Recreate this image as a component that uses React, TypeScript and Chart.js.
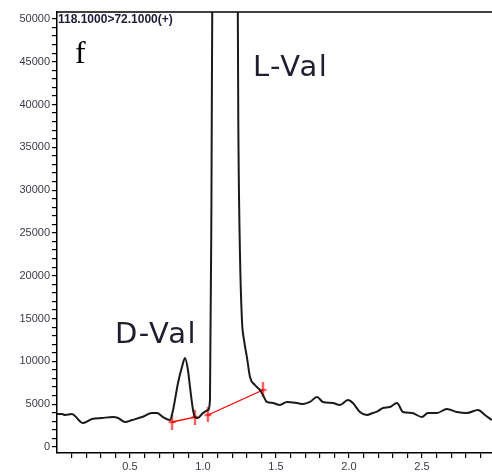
import React, { useEffect, useRef } from 'react';
import { Chart, registerables } from 'chart.js';

Chart.register(...registerables);

// Retention time (min) and intensity of the 118.1 > 72.1 transition
const retentionTime = [
  0.0, 0.034, 0.055, 0.103, 0.123, 0.178, 0.24, 0.308, 0.384, 0.418, 0.466, 0.514,
  0.582, 0.651, 0.685, 0.726, 0.774, 0.795, 0.829, 0.856, 0.877, 0.897, 0.911, 0.932,
  0.945, 0.966, 1.0, 1.034, 1.048, 1.058, 1.066, 1.15, 1.236, 1.242, 1.253, 1.267,
  1.281, 1.301, 1.322, 1.356, 1.39, 1.411, 1.438, 1.479, 1.527, 1.575, 1.644, 1.685,
  1.733, 1.781, 1.822, 1.89, 1.938, 1.993, 2.027, 2.075, 2.123, 2.164, 2.199, 2.233,
  2.281, 2.329, 2.37, 2.432, 2.5, 2.541, 2.603, 2.671, 2.74, 2.808, 2.884, 2.932, 2.979,
];
const intensity = [
  3850, 3850, 3740, 3850, 3620, 2800, 3270, 3390, 3500, 3390, 2920, 3150,
  3500, 3970, 3970, 3500, 3150, 4320, 7480, 9340, 10400, 8990, 7010, 4320,
  3500, 3390, 3970, 4320, 5490, 28800, 60000, 95000, 60000, 38000, 23000, 14800,
  12500, 10500, 8180, 7240, 6660, 6070, 5260, 5140, 4910, 5260, 5140, 5020,
  5260, 5840, 5260, 5140, 4910, 5490, 5140, 4090, 3740, 3970, 4200, 4560,
  4670, 5140, 4090, 3970, 3500, 3970, 3970, 4440, 4090, 3970, 4320, 3740, 3150,
];

// Integration baselines (red)
const dValBaseX = [0.788, 0.945];
const dValBaseY = [2920, 3500];
const lValBaseX = [1.034, 1.411];
const lValBaseY = [3740, 6660];

// Axis ticks
const yMajorTicks = [0, 5000, 10000, 15000, 20000, 25000, 30000, 35000, 40000, 45000, 50000];
const yMinorStep = 1000;
const xMajorTicks = [0.5, 1.0, 1.5, 2.0, 2.5];
const xMinorStep = 0.1;
const xMin = 0;
const xMax = 2.98;
const yMin = -700;
const yMax = 50800;

const headerText = '118.1000>72.1000(+)';
const panelLetter = 'f';
const peakLabels = [
  { text: 'D-Val', x: 0.397, y: 12150 },
  { text: 'L-Val', x: 1.342, y: 43330 },
];

function makeCross(): HTMLCanvasElement {
  const c = document.createElement('canvas');
  c.width = 9;
  c.height = 15;
  const ctx = c.getContext('2d')!;
  ctx.strokeStyle = '#ff0000';
  ctx.lineWidth = 1.5;
  ctx.beginPath();
  ctx.moveTo(4.5, 0);
  ctx.lineTo(4.5, 15);
  ctx.moveTo(1, 7.5);
  ctx.lineTo(8, 7.5);
  ctx.stroke();
  return c;
}

export default function App() {
  const ref = useRef<HTMLCanvasElement | null>(null);

  useEffect(() => {
    if (!ref.current) return;
    const cross = makeCross();
    const mainData = retentionTime.map((x, i) => ({ x, y: intensity[i] }));
    const dBase = dValBaseX.map((x, i) => ({ x, y: dValBaseY[i] }));
    const lBase = lValBaseX.map((x, i) => ({ x, y: lValBaseY[i] }));

    const yTicks: number[] = [];
    for (let v = 0; v <= 50000; v += yMinorStep) yTicks.push(v);
    const xTicks: number[] = [];
    for (let k = 1; k * xMinorStep < xMax; k++) xTicks.push(Math.round(k * xMinorStep * 10) / 10);

    const textPlugin = {
      id: 'texts',
      afterDraw(chart: any) {
        const { ctx, chartArea, scales } = chart;
        ctx.save();
        // top frame line
        ctx.strokeStyle = '#000';
        ctx.lineWidth = 1.5;
        ctx.beginPath();
        ctx.moveTo(chartArea.left, chartArea.top);
        ctx.lineTo(chartArea.right, chartArea.top);
        ctx.stroke();

        ctx.fillStyle = '#1c1c3a';
        ctx.font = 'bold 12px "Liberation Sans", Arial, sans-serif';
        ctx.textBaseline = 'top';
        ctx.textAlign = 'left';
        ctx.fillText(headerText, chartArea.left + 1, chartArea.top + 1.5);

        ctx.fillStyle = '#000';
        ctx.font = '32px "Liberation Serif", "Times New Roman", serif';
        ctx.textBaseline = 'alphabetic';
        ctx.fillText(panelLetter, chartArea.left + 18, chartArea.top + 51);

        ctx.fillStyle = '#1e1e30';
        ctx.font = '29px "DejaVu Sans", sans-serif';
        try {
          (ctx as any).letterSpacing = '1.5px';
        } catch (e) {}
        for (const p of peakLabels) {
          ctx.fillText(p.text, scales.x.getPixelForValue(p.x), scales.y.getPixelForValue(p.y));
        }
        try {
          (ctx as any).letterSpacing = '0px';
        } catch (e) {}
        ctx.restore();
      },
    };

    const chart = new Chart(ref.current, {
      type: 'line',
      data: {
        datasets: [
          {
            data: mainData,
            borderColor: '#1a1a1a',
            borderWidth: 2,
            pointRadius: 0,
            cubicInterpolationMode: 'monotone',
            fill: false,
          },
          {
            data: dBase,
            borderColor: '#ff0000',
            borderWidth: 1.3,
            pointStyle: cross as any,
            pointRadius: 6,
            fill: false,
          },
          {
            data: lBase,
            borderColor: '#ff0000',
            borderWidth: 1.3,
            pointStyle: cross as any,
            pointRadius: 6,
            fill: false,
          },
        ],
      },
      options: {
        animation: false,
        responsive: false,
        layout: { autoPadding: false, padding: { top: 12, right: 0, left: 0, bottom: 0 } },
        plugins: {
          legend: { display: false },
          tooltip: { enabled: false },
        },
        scales: {
          x: {
            type: 'linear',
            min: xMin,
            max: xMax,
            afterBuildTicks: (axis: any) => {
              axis.ticks = xTicks.map((v) => ({ value: v }));
            },
            afterFit: (scale: any) => {
              scale.height = 22;
              scale.paddingLeft = 0;
              scale.paddingRight = 0;
            },
            grid: {
              drawOnChartArea: false,
              drawTicks: true,
              tickLength: 5,
              color: '#000',
              lineWidth: 1.2,
            },
            border: { display: true, color: '#000', width: 1.5 },
            ticks: {
              autoSkip: false,
              maxRotation: 0,
              padding: 2,
              color: '#3a3a4a',
              font: { family: '"Liberation Sans", Arial, sans-serif', size: 11 },
              callback: (value: any) => {
                const v = Math.round(Number(value) * 10) / 10;
                return xMajorTicks.includes(v) ? v.toFixed(1) : '';
              },
            },
          },
          y: {
            type: 'linear',
            min: yMin,
            max: yMax,
            afterBuildTicks: (axis: any) => {
              axis.ticks = yTicks.map((v) => ({ value: v }));
            },
            afterFit: (scale: any) => {
              scale.width = 57;
              scale.paddingTop = 0;
              scale.paddingBottom = 0;
            },
            grid: {
              drawOnChartArea: false,
              drawTicks: true,
              tickLength: 5,
              color: '#000',
              lineWidth: 1.2,
            },
            border: { display: true, color: '#000', width: 1.5 },
            ticks: {
              autoSkip: false,
              padding: 2,
              color: '#3a3a4a',
              font: { family: '"Liberation Sans", Arial, sans-serif', size: 11 },
              callback: (value: any) => {
                const v = Number(value);
                return yMajorTicks.includes(v) ? String(v) : '';
              },
            },
          },
        },
      },
      plugins: [textPlugin],
    } as any);

    return () => chart.destroy();
  }, []);

  return (
    <div style={{ position: 'absolute', left: 0, top: 0, width: 492, height: 475, background: '#fff' }}>
      <canvas ref={ref} width={492} height={475} style={{ display: 'block' }} />
    </div>
  );
}
